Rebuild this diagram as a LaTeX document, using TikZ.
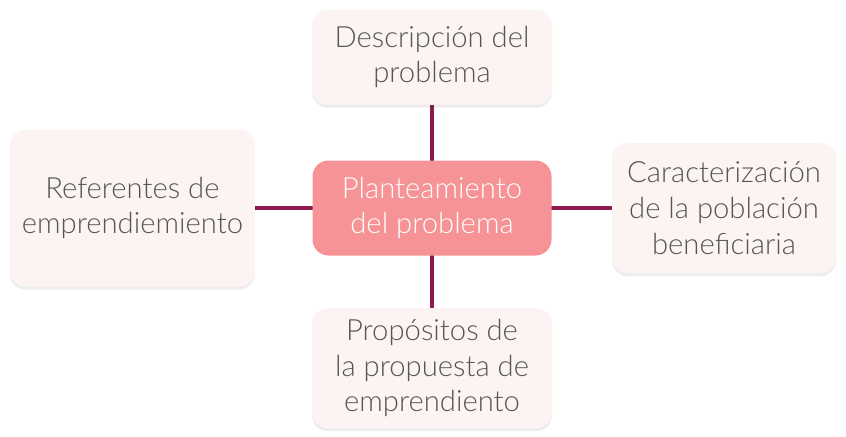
\documentclass[tikz,border=0pt]{standalone}
\usepackage{fontspec}
\setmainfont{Lato Light}
\usepackage{tikz}
\usetikzlibrary{positioning, shadows, backgrounds}
\definecolor{hubfill}{HTML}{F59397}
\definecolor{topicfill}{HTML}{FCF4F2}
\definecolor{topictext}{HTML}{555555}
\definecolor{linkcol}{HTML}{8E1B4F}
\tikzset{
    hubbox/.style={fill=hubfill, rounded corners=0.4cm, text=white, align=center, inner sep=0pt},
    topicbox/.style={fill=topicfill, rounded corners=0.4cm, text=topictext, align=center, inner sep=0pt,
        drop shadow={shadow xshift=0pt, shadow yshift=-0.08cm, opacity=0.07, fill=black}},
    link/.style={draw=linkcol, line width=2.2pt},
}

\begin{document}
\begin{tikzpicture}[
    every node/.style={font=\fontsize{20.8}{25.5}\selectfont},
]
\useasboundingbox (0,0) rectangle (21.15,-10.9);
\node[hubbox, minimum width=5.975cm, minimum height=2.375cm] (hub) at (10.8,-5.2) {Planteamiento\\del problema};
\node[topicbox, minimum width=6cm, minimum height=2.375cm] (desc) at (10.8,-1.425) {Descripción del\\problema};
\node[topicbox, minimum width=6.125cm, minimum height=3.925cm] (refs) at (3.31,-5.2) {Referentes de\\emprendiemiento};
\node[topicbox, minimum width=5.6cm, minimum height=3.25cm] (carac) at (18.1,-5.2) {Caracterización\\de la población\\beneficiaria};
\node[topicbox, minimum width=6cm, minimum height=3cm] (prop) at (10.8,-9.2) {Propósitos de\\la propuesta de\\emprendiento};

\begin{scope}[on background layer]
\draw[link] (hub.center) -- (desc.south);
\draw[link] (hub.center) -- (refs.east);
\draw[link] (hub.center) -- (carac.west);
\draw[link] (hub.center) -- (prop.north);
\end{scope}
\end{tikzpicture}
\end{document}
